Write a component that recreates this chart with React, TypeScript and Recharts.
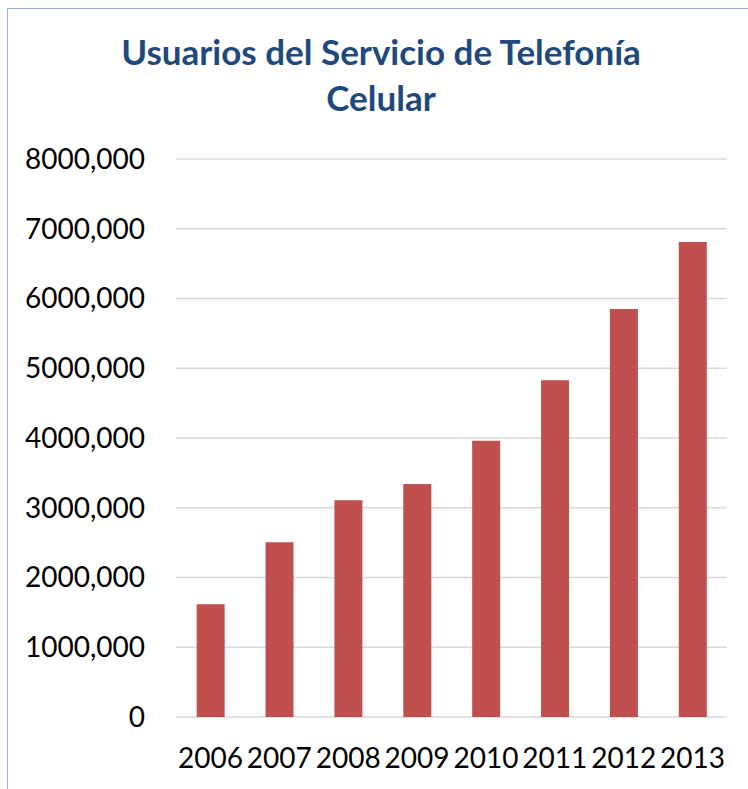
import { BarChart, Bar, XAxis, YAxis, CartesianGrid } from 'recharts';

const years = ['2006', '2007', '2008', '2009', '2010', '2011', '2012', '2013'];
const users = [1616000, 2505000, 3107000, 3340000, 3961000, 4827000, 5850000, 6810000];
const yTicks = [0, 1000000, 2000000, 3000000, 4000000, 5000000, 6000000, 7000000, 8000000];

const titleLines = ['Usuarios del Servicio de Telefonía', 'Celular'];

const data = years.map((year, i) => ({ year, users: users[i] }));

// Excel-style label: 8000000 -> "8000,000"
const formatTick = (v: number) => (v === 0 ? '0' : `${v / 1000},000`);

const font = 'Lato, "Open Sans", sans-serif';

export default function App() {
  return (
    <div
      style={{
        position: 'absolute',
        left: 0,
        top: 0,
        width: 748,
        height: 789,
        overflow: 'hidden',
        background: '#fff',
        fontFamily: font,
      }}
    >
      {/* chart frame, only top and left edges visible */}
      <div
        style={{
          position: 'absolute',
          left: 7,
          top: 8,
          width: 800,
          height: 850,
          borderLeft: '1.5px solid #95B3D7',
          borderTop: '1.5px solid #95B3D7',
        }}
      />
      <div
        style={{
          position: 'absolute',
          left: 0,
          top: 28,
          width: 762,
          textAlign: 'center',
          color: '#1F497D',
          fontWeight: 700,
          fontSize: 35,
          lineHeight: '46px',
        }}
      >
        {titleLines.map((t) => (
          <div key={t}>{t}</div>
        ))}
      </div>
      <div style={{ position: 'absolute', left: 0, top: 0 }}>
        <BarChart
          width={748}
          height={789}
          data={data}
          margin={{ top: 159, right: 21, left: 0, bottom: 0 }}
          barCategoryGap="30%"
        >
          <CartesianGrid vertical={false} stroke="#D9D9D9" strokeWidth={1.5} />
          <XAxis
            dataKey="year"
            height={72}
            axisLine={false}
            tickLine={false}
            tickSize={0}
            tickMargin={31}
            interval={0}
            tick={{ fill: '#000', fontSize: 28, fontFamily: font }}
          />
          <YAxis
            width={176}
            domain={[0, 8000000]}
            ticks={yTicks}
            tickFormatter={formatTick}
            axisLine={false}
            tickLine={false}
            tickSize={0}
            tickMargin={31}
            tick={{ fill: '#000', fontSize: 28, fontFamily: font }}
          />
          <Bar dataKey="users" fill="#C0504D" isAnimationActive={false} />
        </BarChart>
      </div>
    </div>
  );
}
